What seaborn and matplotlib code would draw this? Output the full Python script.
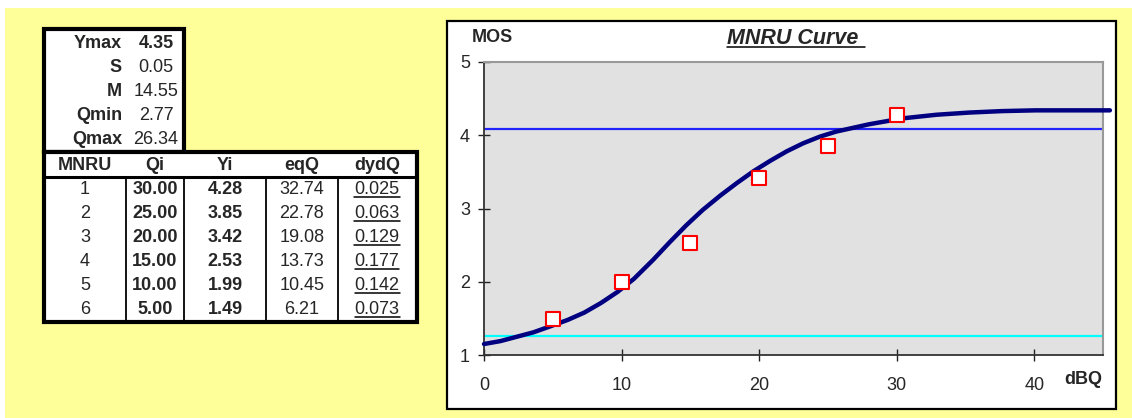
import numpy as np
import pandas as pd
import matplotlib
matplotlib.use("Agg")
import matplotlib.pyplot as plt
from matplotlib.patches import Rectangle
import seaborn as sns

sns.set_style("white")
plt.rcParams['font.family'] = ['Liberation Sans', 'DejaVu Sans']

# parameters box
param_names = ['Ymax', 'S', 'M', 'Qmin', 'Qmax']
param_vals = ['4.35', '0.05', '14.55', '2.77', '26.34']

# MNRU table
col_names = ['MNRU', 'Qi', 'Yi', 'eqQ', 'dydQ']
mnru = [1, 2, 3, 4, 5, 6]
qi = [30.00, 25.00, 20.00, 15.00, 10.00, 5.00]
yi = [4.28, 3.85, 3.42, 2.53, 1.99, 1.49]
eqq = [32.74, 22.78, 19.08, 13.73, 10.45, 6.21]
dydq = [0.025, 0.063, 0.129, 0.177, 0.142, 0.073]

# fitted curve
curve_q = [0, 1.2, 2.4, 3.6, 4.8, 6.1, 7.3, 8.5, 9.7, 10.9, 12.3, 13.5, 14.7, 15.9,
           17.2, 18.4, 19.6, 20.8, 22.0, 23.2, 24.4, 25.6, 28.0, 30.4, 32.9, 35.3, 37.7,
           40.1, 45.5]
curve_mos = [1.15, 1.19, 1.25, 1.31, 1.39, 1.48, 1.58, 1.71, 1.86, 2.04, 2.30, 2.54, 2.77, 2.98,
             3.18, 3.35, 3.51, 3.65, 3.78, 3.89, 3.98, 4.05, 4.15, 4.23, 4.28, 4.31, 4.33,
             4.34, 4.34]
upper_line = 4.09
lower_line = 1.26

W, H = 1132, 418
fig = plt.figure(figsize=(W / 100, H / 100), dpi=100, facecolor='white')

# background layer in pixel coords
bg = fig.add_axes([0, 0, 1, 1])
bg.set_xlim(0, W)
bg.set_ylim(H, 0)
bg.axis('off')
bg.add_patch(Rectangle((5, 8), W - 5, H - 8, facecolor='#FFFF99', edgecolor='none'))
bg.add_patch(Rectangle((447, 21), 669, 388, facecolor='white', edgecolor='black', lw=1.6))

# table
tl, tm, tr = 44, 184, 417
bg.add_patch(Rectangle((tl, 29), tm - tl, 152 - 29, facecolor='white', edgecolor='black', lw=3))
bg.add_patch(Rectangle((tl, 152), tr - tl, 322 - 152, facecolor='white', edgecolor='black', lw=3))
bg.plot([tl, tr], [177, 177], color='black', lw=2.2)
for cx in [126, 184, 266, 338]:
    bg.plot([cx, cx], [177, 322], color='black', lw=1.3)

fs = 13
row_y = [44, 68, 92, 116, 140]
for i, (n, v) in enumerate(zip(param_names, param_vals)):
    bg.text(122, row_y[i], n, ha='right', va='center', fontsize=fs, weight='bold')
    bg.text(156, row_y[i], v, ha='center', va='center', fontsize=fs,
            weight='bold' if i == 0 else 'normal')

col_x = [85, 155, 225, 302, 377]
for cx, name in zip(col_x, col_names):
    bg.text(cx, 165, name, ha='center', va='center', fontsize=fs, weight='bold')

data_y = [190, 214, 238, 262, 286, 310]
under = []
for i in range(len(mnru)):
    y = data_y[i]
    bg.text(col_x[0], y, str(mnru[i]), ha='center', va='center', fontsize=fs)
    bg.text(col_x[1], y, f'{qi[i]:.2f}', ha='center', va='center', fontsize=fs, weight='bold')
    bg.text(col_x[2], y, f'{yi[i]:.2f}', ha='center', va='center', fontsize=fs, weight='bold')
    bg.text(col_x[3], y, f'{eqq[i]:.2f}', ha='center', va='center', fontsize=fs)
    under.append(bg.text(col_x[4], y, f'{dydq[i]:.3f}', ha='center', va='center', fontsize=fs))

# chart
ax = fig.add_axes([484 / W, 1 - 355 / H, (1103 - 484) / W, (355 - 62) / H])
ax.set_facecolor('#E1E1E1')
ax.axhline(upper_line, color='#2222FF', lw=1.6, zorder=1)
ax.axhline(lower_line, color='#00FFFF', lw=1.6, zorder=1)
sns.lineplot(x=curve_q, y=curve_mos, color='#000080', linewidth=3.2, ax=ax,
             clip_on=False, zorder=3)
sns.scatterplot(x=qi, y=yi, marker='s', s=90, facecolor='white', edgecolor='#FF0000',
                linewidth=1.5, ax=ax, zorder=4)
ax.set_xlim(0, 45)
ax.set_ylim(1, 5)
ax.set_xticks([0, 10, 20, 30, 40])
ax.set_yticks([1, 2, 3, 4, 5])
ax.tick_params(axis='both', direction='inout', length=8, width=1, color='#222222',
               labelsize=fs)
ax.tick_params(axis='x', pad=12)
ax.tick_params(axis='y', pad=6)
ax.tick_params(left=True, bottom=True)
for side in ['top', 'right']:
    ax.spines[side].set_color('#999999')
    ax.spines[side].set_linewidth(1.5)
for side in ['left', 'bottom']:
    ax.spines[side].set_color('#333333')
    ax.spines[side].set_linewidth(1.3)
ax.set_xlabel('')
ax.set_ylabel('')

fig.text(492 / W, 1 - 37 / H, 'MOS', ha='center', va='center', fontsize=fs, weight='bold')
fig.text(1083 / W, 1 - 379 / H, 'dBQ', ha='center', va='center', fontsize=fs, weight='bold')
title = bg.text(796, 38, 'MNRU Curve ', ha='center', va='center', fontsize=15.5,
                weight='bold', style='italic')

# underlines
fig.canvas.draw()
inv = bg.transData.inverted()
for t in under + [title]:
    bb = t.get_window_extent()
    (x0, y0), (x1, y1) = inv.transform([(bb.x0, bb.y0), (bb.x1, bb.y1)])
    bg.plot([x0, x1], [y0 - 1.5, y0 - 1.5], color='black', lw=1.1)

fig.savefig('out.png', dpi=100, facecolor=fig.get_facecolor())
